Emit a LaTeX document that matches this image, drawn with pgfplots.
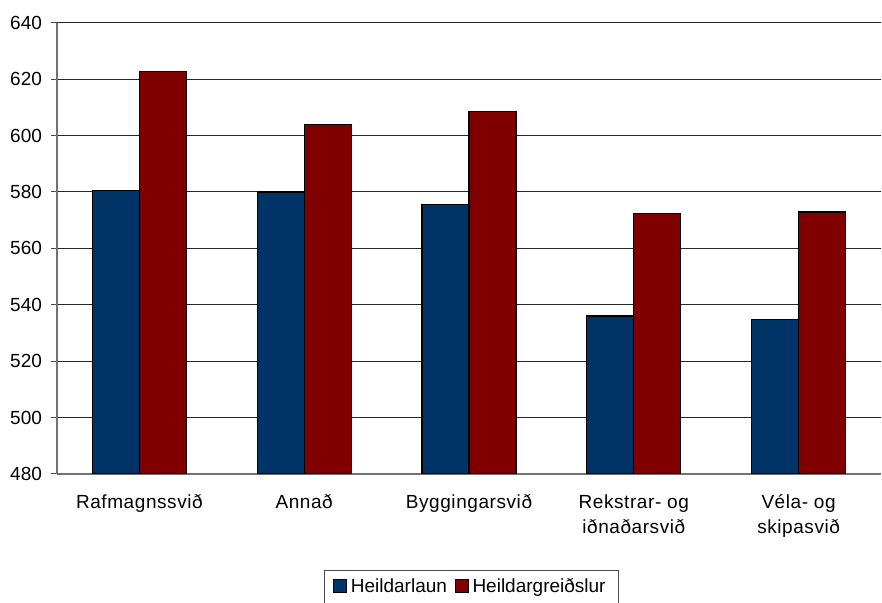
\documentclass[border=0pt]{standalone}
\usepackage{pgfplots}
\pgfplotsset{compat=1.18}
\usepackage{fontspec}
\setmainfont{Liberation Sans}
\newfontfamily\lsfont{Liberation Sans}[LetterSpace=3]
\definecolor{cblue}{HTML}{003366}
\definecolor{cred}{HTML}{800000}
\begin{document}
\begin{tikzpicture}
\begin{axis}[
  scale only axis,
  width=412pt, height=225.65pt,
  xmin=-0.5, xmax=4.5,
  ymin=480, ymax=640,
  ytick={480,500,...,640},
  xtick={0,1,2,3,4},
  xticklabels={Rafmagnssvið,Annað,Byggingarsvið,{Rekstrar- og\\iðnaðarsvið},{Véla- og\\skipasvið}},
  x tick label style={align=center, font=\lsfont\fontsize{9.5}{12.5}\selectfont, yshift=-4pt},
  y tick label style={font=\fontsize{9.5}{11}\selectfont, xshift=-1.2pt},
  major x tick style={draw=none},
  extra x ticks={-0.5,0.5,1.5,2.5,3.5,4.5},
  extra x tick labels={},
  extra x tick style={major tick length=3pt, tick style={black!70, line width=0.5pt}, grid=none},
  tick align=outside,
  major tick length=2.8pt,
  ytick style={black!70, line width=0.5pt},
  axis lines*=left,
  axis line style={black!55, line width=0.6pt, -},
  ymajorgrids,
  grid style={black!85, line width=0.5pt},
  /pgf/number format/assume math mode=true,
  legend style={at={(0.503,-0.2127)}, anchor=north, legend columns=2, draw=black!70, line width=0.5pt,
    font=\fontsize{9.5}{11}\selectfont, inner ysep=2pt, inner xsep=4.5pt, /tikz/every even column/.append style={column sep=2pt}},
  legend image code/.code={\draw[#1, line width=0.5pt] (0cm,-0.1cm) rectangle (0.22cm,0.13cm);},
]
\addplot[ybar, bar width=0.285, bar shift=-0.1425, fill=cblue, draw=black, line width=0.6pt]
  coordinates {(0,580.6) (1,580.0) (2,575.6) (3,536.0) (4,534.9)};
\addlegendentry{Heildarlaun}
\addplot[ybar, bar width=0.285, bar shift=0.1425, fill=cred, draw=black, line width=0.6pt]
  coordinates {(0,622.7) (1,603.8) (2,608.4) (3,572.3) (4,572.9)};
\addlegendentry{Heildargreiðslur}
\end{axis}
\pgfresetboundingbox
\path (-28.5pt,-64.5pt) rectangle (412.5pt,237pt);
\end{tikzpicture}
\end{document}
